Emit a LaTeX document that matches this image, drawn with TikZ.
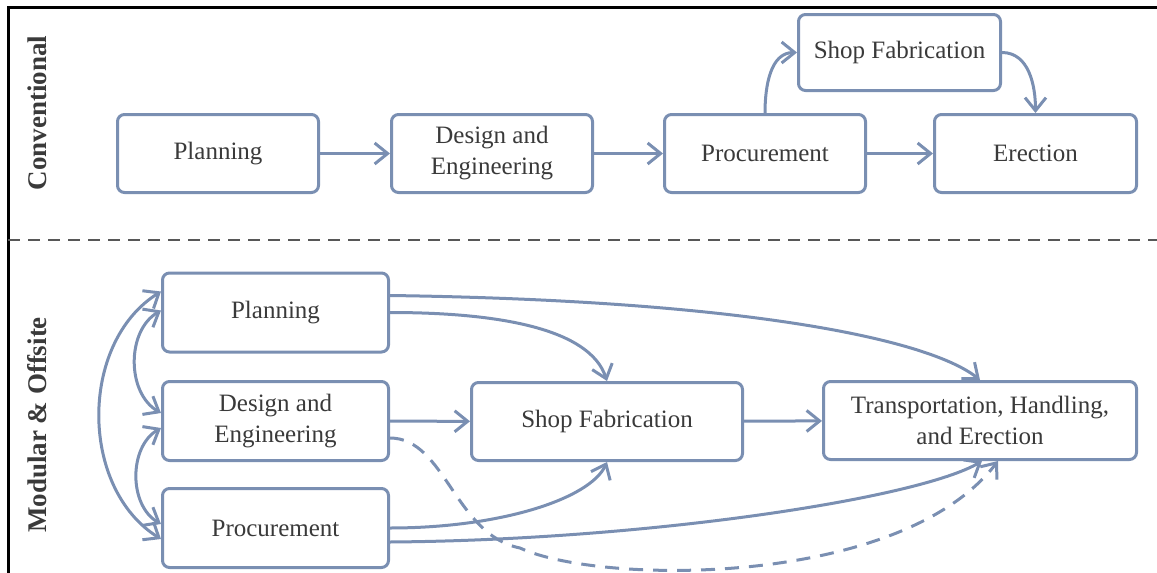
\documentclass[tikz,border=0pt]{standalone}
\usepackage{fontspec}
\setmainfont{Liberation Serif}
\usetikzlibrary{arrows.meta}

\definecolor{flow}{RGB}{122,143,178}
\definecolor{ink}{RGB}{58,58,58}

\tikzset{
  box/.style={draw=flow, line width=3pt, rounded corners=7pt, fill=white,
    align=center, text=ink, font=\fontsize{25}{31}\selectfont,
    minimum height=78pt, inner sep=0pt},
  link/.style={draw=flow, line width=3pt, -{Straight Barb[length=13pt,width=21pt]}},
  both/.style={link, {Straight Barb[length=13pt,width=21pt]}-{Straight Barb[length=13pt,width=21pt]}},
  side/.style={rotate=90, text=ink, font=\fontsize{27}{32}\selectfont\bfseries}
}

\begin{document}
\begin{tikzpicture}[x=1pt,y=-1pt]
  \useasboundingbox (0,0) rectangle (1157,573);

  % frame and split line
  \draw[line width=3pt] (8,573) -- (8,7) -- (1157,7);
  \draw[ink!85, line width=2.5pt, dash pattern=on 12pt off 8pt] (8,240) -- (1157,240);

  \node[side] (conv) at (37,113) {Conventional};
  \node[side] (mod) at (37,425) {Modular \& Offsite};

  % conventional
  \node[box, minimum width=201pt] (pl1) at (218,153.5) {Planning};
  \node[box, minimum width=201pt] (de1) at (492,153.5) {Design and\\Engineering};
  \node[box, minimum width=201pt] (pr1) at (765,153.5) {Procurement};
  \node[box, minimum width=202pt] (er1) at (1035.5,153.5) {Erection};
  \node[box, minimum width=202pt, minimum height=76pt] (sf1) at (899.5,52.5) {Shop Fabrication};

  \draw[link] (pl1) -- (de1);
  \draw[link] (de1) -- (pr1);
  \draw[link] (pr1) -- (er1);
  \draw[link] (pr1.north) to[out=90,in=180] (sf1.west);
  \draw[link] (sf1.east) to[out=0,in=90] (er1.north);

  % modular & offsite
  \node[box, minimum width=226pt, minimum height=79pt] (pl2) at (275.5,312.5) {Planning};
  \node[box, minimum width=226pt, minimum height=79pt] (de2) at (275.5,421) {Design and\\Engineering};
  \node[box, minimum width=226pt, minimum height=79pt] (pr2) at (275.5,528) {Procurement};
  \node[box, minimum width=271pt] (sf2) at (607,421.5) {Shop Fabrication};
  \node[box, minimum width=313pt] (tr2) at (980,420.5) {Transportation, Handling,\\and Erection};

  \draw[both] ([yshift=21pt]pl2.west) to[bend right=58] ([yshift=-11pt]pr2.west);
  \draw[both] ([yshift=2pt]pl2.west) to[bend right=60] ([yshift=8pt]de2.west);
  \draw[both] ([yshift=-7pt]de2.west) to[bend right=60] ([yshift=4pt]pr2.west);

  \draw[link] ([yshift=17pt]pl2.east) .. controls +(360,5) and +(-50,-40) .. (tr2.north);
  \draw[link] (pl2.east) .. controls +(110,0) and +(-17,-52) .. (sf2.north);
  \draw[link] (de2) -- (sf2);
  \draw[link] (sf2) -- (tr2);
  \draw[link] (pr2.east) .. controls +(110,0) and +(-17,37) .. (sf2.south);
  \draw[link] ([yshift=-14pt]pr2.east) .. controls +(260,-2) and +(-62,37) .. ([xshift=2pt]tr2.south);

  \coordinate (dip) at (520,548);
  \draw[link, dash pattern=on 14pt off 10pt] ([yshift=-17pt]de2.east)
    .. controls +(55,0) and +(-65,-13) .. (dip)
    .. controls +(80,37) and +(-98,127) .. ([xshift=18pt]tr2.south);
\end{tikzpicture}
\end{document}
